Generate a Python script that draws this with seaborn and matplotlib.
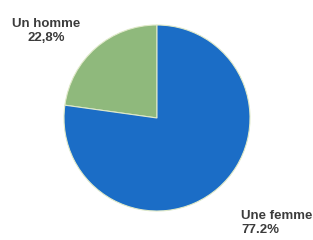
import matplotlib
matplotlib.use("Agg")
import matplotlib.pyplot as plt
import seaborn as sns

# data
labels = ["Un homme", "Une femme"]
values = [22.8, 77.2]
pct_text = ["22,8%", "77.2%"]
colors = ["#8fb97c", "#1b6dc6"]

sns.set_theme(style="white")
plt.rcParams['font.family'] = ['Liberation Sans', 'DejaVu Sans']

W, H = 313, 240
fig = plt.figure(figsize=(W / 100, H / 100), dpi=100)
fig.patch.set_facecolor("white")

# pie centre ~ (157, 118) px, radius ~ 93 px
cx, cy, r = 157, 118, 93
ax = fig.add_axes([(cx - r) / W, (H - cy - r) / H, 2 * r / W, 2 * r / H])
ax.pie(values, colors=colors, startangle=90, counterclock=True,
       wedgeprops=dict(edgecolor="#dfe9c8", linewidth=0.8))
ax.set_xlim(-1, 1)
ax.set_ylim(-1, 1)
ax.set_aspect("equal")
ax.axis("off")

txt = dict(fontsize=9.5, fontweight="bold", color="#3c3c3c", linespacing=1.25)
fig.text(46 / W, 1 - 31 / H, f"{labels[0]}\n{pct_text[0]}", ha="center", va="center", **txt)
fig.text(241 / W, 1 - 223 / H, f"{labels[1]}\n{pct_text[1]}", ha="left", va="center", **txt)

fig.savefig("out.png", dpi=100, facecolor="white")
